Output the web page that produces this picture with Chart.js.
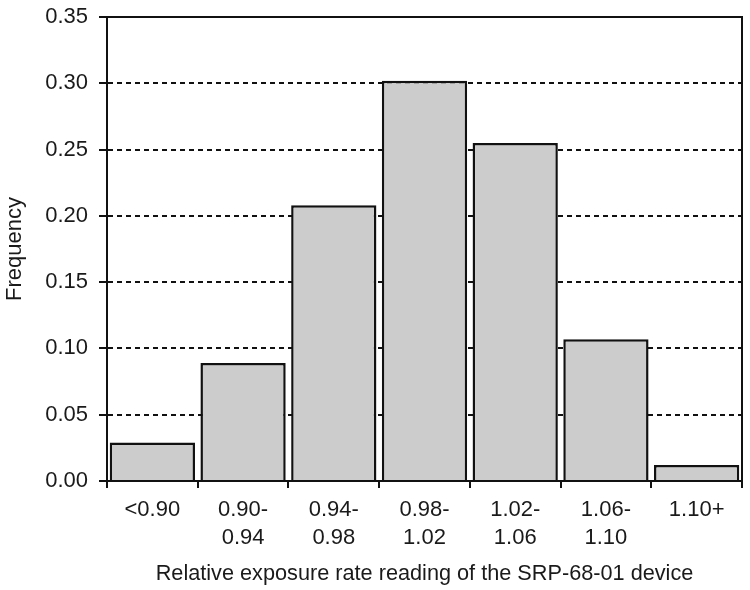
<!DOCTYPE html>
<html><head><meta charset="utf-8">
<script src="https://cdn.jsdelivr.net/npm/chart.js@4"></script>
<style>html,body{margin:0;padding:0;background:#fff}</style>
</head><body>
<canvas id="c" width="750" height="590"></canvas>
<script>
const categories = [["<0.90"], ["0.90-", "0.94"], ["0.94-", "0.98"], ["0.98-", "1.02"], ["1.02-", "1.06"], ["1.06-", "1.10"], ["1.10+"]];
const frequencies = [0.029, 0.089, 0.208, 0.302, 0.255, 0.107, 0.012];
const yMin = 0, yMax = 0.35, yStep = 0.05;
const xTitle = "Relative exposure rate reading of the SRP-68-01 device";
const yTitle = "Frequency";

const FONT = "'Liberation Sans', Arial, sans-serif";
const TEXT = "#1a1a1a";

const frame = {
  id: 'frame',
  afterDatasetsDraw(chart) {
    const {ctx, chartArea: a} = chart;
    ctx.save();
    ctx.strokeStyle = '#111';
    ctx.lineWidth = 2;
    ctx.beginPath();
    ctx.moveTo(a.left, a.top);
    ctx.lineTo(a.right, a.top);
    ctx.lineTo(a.right, a.bottom);
    ctx.stroke();
    ctx.restore();
  }
};

new Chart(document.getElementById('c'), {
  type: 'bar',
  data: {
    labels: categories,
    datasets: [{
      data: frequencies,
      backgroundColor: '#cccccc',
      borderColor: '#111',
      borderWidth: 2.5,
      barPercentage: 0.94,
      categoryPercentage: 1.0
    }]
  },
  options: {
    responsive: false,
    animation: false,
    layout: {padding: {left: 0, top: 17, right: 8, bottom: 0}},
    plugins: {legend: {display: false}, tooltip: {enabled: false}},
    scales: {
      x: {
        afterFit(s) { s.height = 109; s.paddingLeft = 0; s.paddingRight = 0; },
        grid: {display: true, drawOnChartArea: false, drawTicks: true, tickLength: 7, color: '#111', lineWidth: 2, offset: true},
        border: {display: true, color: '#111', width: 2},
        ticks: {color: TEXT, font: {family: FONT, size: 22, lineHeight: 1.27}, padding: 8, maxRotation: 0, autoSkip: false},
        title: {display: true, text: xTitle, color: TEXT, font: {family: FONT, size: 21.7}, padding: {top: 0, bottom: 3}}
      },
      y: {
        min: yMin, max: yMax,
        afterFit(s) { s.width = 107; s.paddingTop = 0; s.paddingBottom = 0; },
        grid: {color: '#111', lineWidth: 2, tickLength: 8, tickColor: '#111'},
        border: {display: true, color: '#111', width: 2, dash: [5, 4]},
        ticks: {stepSize: yStep, color: TEXT, font: {family: FONT, size: 22}, padding: 11,
          callback: v => Number(v).toFixed(2)},
        title: {display: true, text: yTitle, color: TEXT, font: {family: FONT, size: 22}, padding: {top: 2, bottom: 0}}
      }
    }
  },
  plugins: [frame]
});
</script>
</body></html>
